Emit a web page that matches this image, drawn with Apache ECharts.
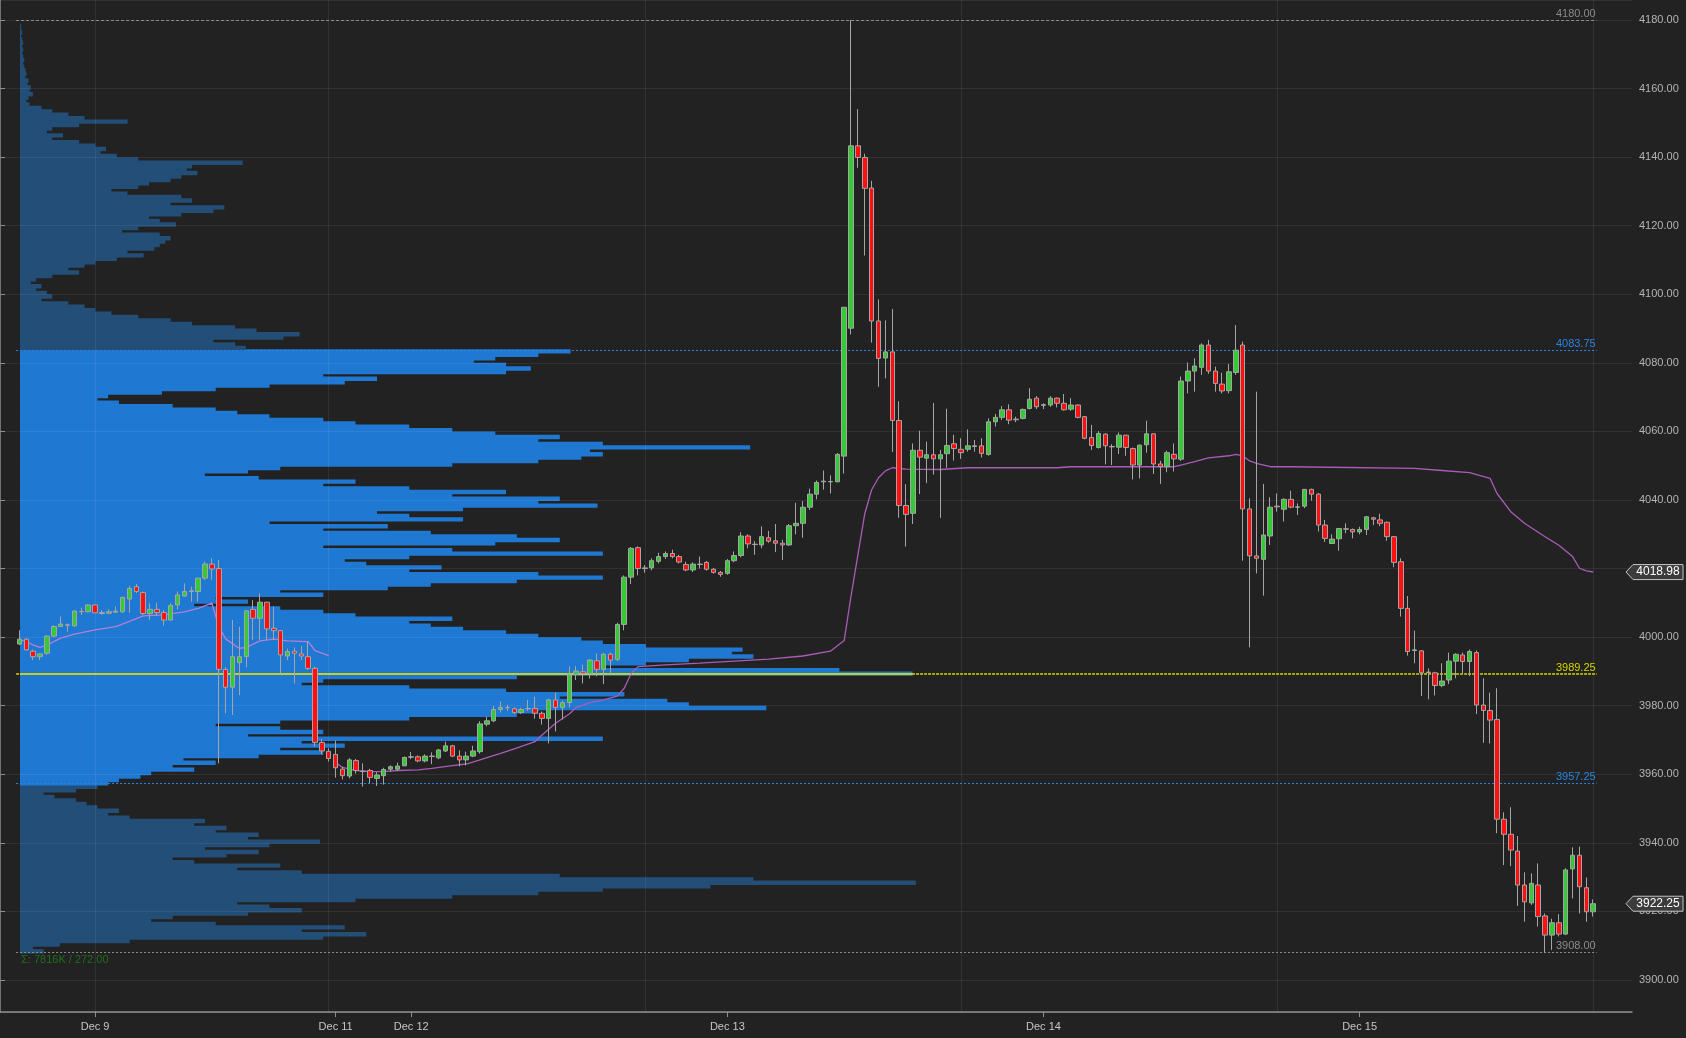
<!DOCTYPE html>
<html><head><meta charset="utf-8">
<script src="https://cdn.jsdelivr.net/npm/echarts/dist/echarts.min.js"></script>
<style>html,body{margin:0;padding:0;background:#222222;}#c{width:1686px;height:1038px;}</style>
</head><body><div id="c"></div><script>
// ---------- data ----------
const tickIndex = [11, 46, 57, 103, 149, 195];
const tickLabels = ['Dec 9', 'Dec 11', 'Dec 12', 'Dec 13', 'Dec 14', 'Dec 15'];
const sessionLineIndex = [11, 45, 91, 137, 183, 229];
const sessionStarts = [[2022,11,8],[2022,11,11],[2022,11,12],[2022,11,13],[2022,11,14]];
const levels = [4180.00, 4083.75, 3989.25, 3957.25, 3908.00];
const VAH = 4083.75, VAL = 3957.25, POC = 3989.25;
const lastPrice = 3922.25, vwapLast = 4018.98;
const profileText = 'Σ: 7816K / 272.00';
const profileBase = 3908;
const profileVol = [
22,12,37,102,282,322,262,302,182,122,
142,212,262,232,202,312,402,482,542,642,
833,682,502,262,202,242,162,142,192,222,
172,232,279,212,222,182,192,162,172,102,
82,92,72,62,52,32,22,52,72,82,
92,112,122,162,142,182,152,222,282,242,
302,262,542,212,282,242,182,242,362,462,
482,694,622,602,502,562,452,362,262,282,
462,830,762,542,582,622,682,662,672,582,
542,522,482,452,412,382,362,402,312,282,
242,162,212,182,282,242,342,382,462,542,
482,362,392,322,302,362,542,402,282,442,
502,462,382,282,342,232,412,362,332,412,
537,482,502,402,452,362,282,312,222,172,
212,242,402,482,522,542,530,679,542,482,
502,442,402,362,312,282,232,202,182,142,
92,72,82,132,182,232,302,332,282,452,
475,452,422,442,482,512,210,200,180,245,
260,220,200,160,140,110,85,70,60,45,
20,30,25,15,20,10,15,30,55,45,
60,70,90,115,100,125,130,135,140,130,
95,110,145,130,120,150,180,190,140,160,
150,100,85,110,120,140,150,165,155,160,
207,110,90,75,80,70,55,30,40,25,
30,55,100,60,45,30,20,9,6,8,
12,9,10,7,8,5,6,5,4,3,
4,3,2,3,2,3,2,1,2,1,
1,0];
// [open, close, low, high]
const ohlc = [
[3998.0,3999.4,3997.7,4002.0],[3999.4,3996.3,3996.1,3999.7],[3995.9,3994.3,3993.3,3996.4],[3994.3,3995.1,3993.3,3995.3],
[3995.3,4000.3,3994.8,4000.6],[4000.3,4003.1,4000.0,4003.5],[4003.1,4003.8,4003.0,4006.0],[4003.5,4003.6,4001.6,4004.0],
[4003.3,4007.6,4003.0,4007.9],[4007.4,4007.5,4006.5,4008.6],[4007.4,4009.4,4007.2,4009.6],[4009.4,4007.1,4007.0,4009.6],
[4007.2,4006.9,4006.5,4007.9],[4007.0,4007.4,4006.7,4008.1],[4007.3,4007.6,4007.0,4008.9],[4007.4,4011.6,4007.0,4011.8],
[4011.1,4014.2,4007.1,4015.0],[4014.7,4013.3,4012.8,4015.5],[4013.0,4006.9,4006.5,4013.3],[4006.9,4008.1,4005.0,4009.9],
[4008.1,4007.2,4006.2,4010.0],[4007.2,4005.0,4003.4,4007.9],[4005.0,4009.2,4004.8,4009.9],[4009.4,4012.3,4008.1,4013.3],
[4012.0,4013.3,4011.8,4015.7],[4013.3,4013.5,4010.3,4014.7],[4013.3,4017.2,4010.3,4017.4],[4017.2,4021.3,4016.7,4022.0],
[4021.3,4019.9,4016.7,4023.0],[4020.0,3990.6,3963.2,4022.5],[3990.6,3985.4,3977.8,3991.2],[3985.4,3994.3,3977.3,4005.0],
[3992.6,3994.3,3983.1,4003.0],[3994.3,4007.7,3991.2,4007.9],[4008.1,4005.5,3999.2,4010.8],[4005.5,4010.2,3999.2,4012.8],
[4010.2,4002.4,3999.2,4010.3],[4002.6,4001.9,3999.2,4008.9],[4001.9,3994.8,3989.4,4002.1],[3994.5,3995.8,3993.3,3996.7],
[3995.9,3995.3,3986.5,3997.0],[3995.1,3994.5,3993.3,3997.4],[3994.3,3990.9,3990.4,3998.8],[3990.9,3969.3,3968.1,3991.4],
[3969.3,3966.8,3965.8,3970.3],[3966.7,3964.6,3963.7,3967.6],
[3965.8,3961.9,3959.0,3969.8],[3961.5,3959.6,3958.5,3962.2],[3959.5,3964.2,3958.8,3964.7],[3964.0,3961.1,3960.2,3964.5],
[3960.9,3960.8,3956.4,3963.2],[3961.1,3959.1,3957.4,3961.6],[3958.8,3959.8,3956.6,3960.6],[3959.6,3961.4,3957.0,3961.9],
[3961.5,3962.2,3960.8,3962.6],[3961.5,3962.4,3961.0,3963.4],[3962.5,3964.9,3962.3,3965.2],[3965.0,3965.1,3964.4,3966.5],
[3965.1,3963.9,3963.5,3965.5],[3963.9,3965.3,3963.5,3965.8],[3965.3,3965.2,3963.0,3966.4],[3964.8,3967.1,3964.4,3967.4],
[3966.8,3968.3,3966.5,3969.5],[3968.3,3965.3,3965.0,3968.6],[3965.3,3964.2,3962.3,3967.0],[3964.2,3965.3,3962.6,3966.6],
[3965.3,3966.8,3965.0,3968.3],[3966.6,3974.7,3966.0,3975.5],[3974.6,3975.6,3974.0,3976.8],[3975.6,3978.9,3975.2,3979.9],
[3978.9,3979.5,3978.0,3981.2],[3979.5,3979.4,3978.5,3980.3],[3979.1,3978.0,3977.6,3979.5],[3978.0,3978.9,3977.6,3979.4],
[3979.1,3979.2,3978.5,3981.7],[3979.2,3977.8,3976.2,3982.6],[3977.8,3976.3,3974.5,3978.3],[3976.3,3981.7,3969.0,3982.0],
[3981.7,3979.5,3972.5,3983.8],[3979.5,3980.9,3976.0,3981.5],[3980.9,3989.0,3979.5,3991.5],[3989.2,3990.1,3987.5,3991.6],
[3989.9,3989.4,3986.5,3992.0],[3989.4,3993.3,3987.9,3993.6],[3993.1,3990.6,3988.6,3995.2],[3990.6,3995.0,3986.3,3995.4],
[3995.0,3993.3,3989.3,3995.5],[3993.5,4003.7,3993.0,4004.2],[4003.7,4017.5,4002.0,4018.0],[4017.5,4025.9,4015.5,4026.3],
[4026.1,4020.0,4018.0,4026.5],[4020.0,4020.2,4018.8,4021.0],
[4020.2,4022.3,4019.5,4023.0],[4022.1,4023.5,4021.5,4024.6],[4023.5,4024.4,4022.8,4025.0],[4024.4,4023.5,4023.0,4025.5],
[4023.5,4021.9,4021.5,4024.0],[4021.2,4019.6,4019.2,4022.0],[4019.6,4021.3,4019.0,4021.8],[4021.2,4021.3,4020.0,4023.5],
[4021.8,4019.8,4019.4,4022.2],[4019.8,4018.9,4018.5,4020.2],[4018.9,4018.3,4017.6,4019.3],[4018.6,4022.3,4018.2,4022.8],
[4022.3,4023.8,4021.8,4025.0],[4023.8,4029.5,4023.3,4030.6],[4029.5,4027.2,4025.9,4030.0],[4027.0,4027.1,4024.0,4028.0],
[4026.9,4029.3,4025.9,4032.3],[4029.0,4028.0,4027.5,4031.0],[4028.1,4027.4,4024.8,4033.0],[4027.4,4026.9,4022.5,4028.4],
[4026.9,4032.5,4026.6,4033.0],[4032.5,4033.2,4030.0,4039.2],[4033.2,4037.9,4029.0,4039.7],[4037.9,4041.7,4037.1,4043.3],
[4041.7,4045.1,4040.2,4045.7],[4045.3,4045.5,4043.0,4048.6],[4045.3,4045.4,4041.9,4047.2],[4045.3,4053.3,4045.3,4053.7],
[4052.8,4096.2,4047.7,4096.2],[4090.1,4143.3,4088.3,4180.0],[4143.3,4139.9,4136.9,4154.0],[4139.9,4130.9,4111.3,4141.0],
[4131.0,4092.2,4085.9,4133.1],[4092.2,4081.3,4073.0,4098.5],[4081.4,4083.2,4075.5,4092.4],[4083.2,4063.2,4054.0,4095.7],
[4063.2,4038.4,4034.8,4068.8],[4038.4,4035.8,4026.4,4044.6],[4036.1,4054.5,4033.0,4056.5],[4054.5,4052.5,4041.7,4060.2],
[4052.2,4053.2,4044.9,4057.0],[4053.2,4052.0,4047.4,4068.3],[4052.0,4053.2,4034.8,4054.6],[4053.5,4055.9,4049.4,4066.6],
[4056.4,4055.0,4051.5,4059.0],[4054.8,4053.8,4052.0,4058.0],
[4054.8,4055.8,4054.1,4060.6],[4055.6,4055.8,4054.1,4057.5],[4055.8,4053.6,4052.4,4058.0],[4053.3,4062.8,4052.9,4063.8],
[4062.8,4064.1,4061.4,4065.1],[4064.1,4066.3,4063.3,4067.4],[4066.3,4063.3,4062.1,4067.9],[4063.6,4063.4,4062.7,4064.3],
[4063.8,4066.4,4063.5,4066.7],[4066.7,4069.4,4066.4,4072.6],[4069.7,4067.2,4066.5,4070.3],[4067.6,4067.8,4066.5,4068.2],
[4067.7,4069.7,4067.2,4070.3],[4069.7,4068.2,4067.0,4069.9],[4068.2,4066.3,4066.1,4070.9],[4066.5,4067.7,4066.0,4069.7],
[4067.7,4064.1,4063.8,4067.9],[4064.3,4058.0,4057.7,4064.5],[4058.2,4055.9,4054.6,4061.9],[4055.3,4059.4,4055.0,4060.1],
[4059.2,4055.8,4050.4,4059.5],[4055.6,4055.5,4050.2,4056.3],[4055.4,4058.9,4053.4,4059.7],[4058.9,4055.3,4052.9,4059.0],
[4055.0,4050.2,4046.0,4055.3],[4050.2,4056.0,4046.3,4056.2],[4056.1,4059.3,4053.8,4063.1],[4059.3,4050.5,4047.6,4059.4],
[4050.5,4049.7,4044.7,4051.4],[4049.7,4053.8,4048.1,4054.4],[4053.3,4052.0,4048.3,4056.5],[4051.9,4074.7,4051.4,4076.0],
[4074.7,4077.6,4071.1,4080.1],[4077.6,4079.1,4071.6,4081.3],[4078.7,4085.2,4076.5,4085.7],[4085.2,4077.6,4076.8,4086.7],
[4077.6,4074.0,4071.6,4078.9],[4073.8,4071.8,4071.1,4077.1],[4071.9,4077.4,4071.1,4079.7],[4077.2,4083.7,4076.5,4091.0],
[4085.2,4037.4,4022.3,4086.2],[4037.4,4023.7,3997.0,4040.5],[4023.7,4023.0,4018.6,4071.6],[4022.7,4029.8,4012.1,4044.7],
[4029.5,4037.9,4026.9,4040.8],[4038.2,4038.0,4036.6,4041.9],
[4037.3,4040.2,4033.7,4040.5],[4040.2,4037.9,4037.6,4042.7],[4037.9,4038.0,4035.6,4039.0],[4038.2,4043.1,4037.6,4043.2],
[4043.1,4041.7,4039.8,4043.3],[4041.7,4032.7,4030.8,4042.1],[4032.7,4028.8,4027.8,4034.2],[4027.3,4028.6,4027.2,4030.0],
[4028.7,4031.7,4025.2,4031.8],[4031.5,4031.6,4030.3,4033.2],[4031.4,4030.7,4028.8,4031.7],[4030.7,4031.4,4030.0,4032.2],
[4031.4,4035.1,4029.8,4035.3],[4034.8,4034.4,4032.7,4035.1],[4034.2,4033.2,4032.4,4036.0],[4033.5,4029.3,4028.1,4033.7],
[4029.3,4021.8,4020.4,4029.5],[4022.0,4008.4,4006.0,4023.0],[4008.4,3995.8,3994.6,4012.0],[3996.1,3996.3,3992.4,4001.9],
[3996.0,3989.6,3982.8,3996.2],[3989.7,3989.8,3981.9,3990.9],[3989.6,3985.9,3983.0,3989.9],[3985.9,3987.2,3985.4,3992.4],
[3987.5,3993.0,3986.3,3995.5],[3993.0,3995.0,3988.0,3995.3],[3994.8,3992.9,3989.4,3995.5],[3992.9,3995.8,3988.7,3996.4],
[3995.5,3980.2,3977.6,3996.1],[3980.2,3978.6,3969.2,3988.0],[3978.6,3975.8,3969.0,3983.8],[3976.0,3946.9,3942.8,3985.1],
[3946.9,3942.5,3933.5,3948.9],[3942.5,3937.9,3933.2,3950.4],[3937.6,3927.7,3921.6,3942.0],[3927.7,3922.8,3917.0,3931.4],
[3922.5,3928.2,3921.9,3931.1],[3927.7,3918.5,3915.6,3934.0],[3918.7,3913.1,3908.0,3919.4],[3913.1,3916.7,3908.8,3917.9],
[3916.7,3913.4,3912.7,3919.2],[3913.4,3932.1,3913.1,3932.6],[3932.4,3936.4,3923.8,3938.7],[3936.4,3927.2,3919.4,3938.9],
[3926.9,3919.9,3917.0,3929.9],[3919.9,3922.25,3918.5,3923.5]
];
// VWAP readings: [candle index, value]
const vwapDec9 = [[0,3999.3],[1,3998.7],[2,3997.7],[3,3997.0],[4,3997.7],[6,3999.7],[8,4000.9],[11,4002.1],[14,4003.1],[16,4004.6],[18,4006.2],[21,4006.5],[24,4007.4],[26,4008.4],[28,4009.9],[29,4003.1],[30,3999.5],[32,3996.7],[33,3997.0],[35,3998.9],[37,3999.4],[39,3998.9],[42,3998.7],[43,3996.1],[45,3994.6]];
const vwapAnchored = [[46,3963.4],[47,3962.0],[49,3961.1],[51,3960.8],[53,3960.8],[55,3961.1],[58,3961.3],[60,3961.7],[63,3962.5],[65,3963.0],[67,3964.2],[70,3966.1],[72,3967.4],[75,3969.5],[76,3971.4],[78,3974.9],[80,3977.6],[81,3979.5],[83,3980.9],[85,3981.7],[87,3982.8],[88,3985.1],[89,3989.4],[90,3991.4],[94,3991.9],[99,3992.4],[104,3993.0],[109,3993.6],[114,3994.5],[118,3995.9],[120,3999.0],[121,4012.0],[122,4024.0],[123,4036.0],[124,4043.0],[125,4046.5],[126,4048.5],[127,4049.4],[129,4049.0],[134,4048.9],[138,4049.4],[151,4049.4],[153,4049.7],[168,4049.7],[169,4050.2],[171,4051.2],[173,4052.3],[176,4052.9],[177,4053.3],[178,4052.9],[179,4051.4],[180,4050.7],[182,4049.7],[185,4049.7],[203,4049.2],[207,4048.6],[211,4048.0],[214,4046.3],[215,4041.9],[217,4036.6],[219,4033.2],[222,4029.3],[224,4026.8],[226,4023.5],[227,4020.1],[228,4019.3],[229,4019.0]];

// ---------- categories (30-minute bars) ----------
const categories = [];
sessionStarts.forEach(function (d) {
  for (let k = 0; k < 46; k++) {
    const t = new Date(d[0], d[1], d[2], 18, 0 + 30 * k);
    const p = n => (n < 10 ? '0' : '') + n;
    categories.push(p(t.getMonth() + 1) + '-' + p(t.getDate()) + ' ' + p(t.getHours()) + ':' + p(t.getMinutes()));
  }
});

// ---------- chart ----------
const yMin = 3890.67, yMax = 4185.83;
const levelColors = ['#8a8a8a', '#2a84de', '#d4d400', '#2a84de', '#8a8a8a'];
const levelTypes = [[3, 2], [2, 2], [3, 1], [2, 2], [2, 2]];
const chart = echarts.init(document.getElementById('c'), null, {renderer: 'canvas'});
const axisCol = '#8e8e8e';
const option = {
  backgroundColor: '#222222',
  animation: false,
  textStyle: {fontFamily: 'Liberation Sans, Arial, sans-serif'},
  title: {text: profileText, left: 21, top: 954, padding: 0, textStyle: {color: '#1d6e1d', fontSize: 11, fontWeight: 'normal'}},
  grid: [
    {left: 0, right: 54, top: 0, bottom: 26},
    {left: 16.06, width: 1580.6, top: 0, bottom: 26},
    {left: 20, right: 54, top: 0, bottom: 26}
  ],
  xAxis: [
    {gridIndex: 0, type: 'value', min: 0, max: 1, axisLine: {show: true, onZero: false, lineStyle: {color: axisCol, width: 1.5}}, axisTick: {show: false}, axisLabel: {show: false}, splitLine: {show: false}},
    {gridIndex: 1, type: 'category', data: categories, boundaryGap: true,
      axisLine: {show: false, onZero: false},
      axisTick: {show: true, alignWithLabel: true, length: 5, interval: i => tickIndex.indexOf(i) >= 0, lineStyle: {color: axisCol}},
      axisLabel: {show: true, interval: i => tickIndex.indexOf(i) >= 0, formatter: (v, i) => tickLabels[tickIndex.indexOf(i)], color: '#c6c6c6', fontSize: 11, margin: 9},
      splitLine: {show: false}},
    {gridIndex: 2, type: 'value', min: 0, max: 1499, show: false}
  ],
  yAxis: [
    {gridIndex: 0, type: 'value', position: 'right', min: yMin, max: yMax, splitNumber: 15, z: 3,
      axisLine: {show: true, lineStyle: {color: axisCol, width: 1.5}},
      axisTick: {show: true, length: 5, lineStyle: {color: axisCol}},
      axisLabel: {color: '#b4b4b4', fontSize: 11, margin: 7, showMinLabel: false, showMaxLabel: false, formatter: v => v.toFixed(2)},
      splitLine: {show: true, lineStyle: {color: 'rgba(255,255,255,0.07)', width: 1}}},
    {gridIndex: 1, type: 'value', min: yMin, max: yMax, show: false},
    {gridIndex: 2, type: 'value', min: yMin, max: yMax, show: false}
  ],
  series: [
    {
      type: 'custom', name: 'profile', xAxisIndex: 2, yAxisIndex: 2, z: 1, silent: true,
      data: profileVol.map((v, k) => [v, profileBase + k]),
      encode: {x: 0, y: 1},
      renderItem: function (params, api) {
        const v = api.value(0), p = api.value(1);
        const a = api.coord([0, p + 1]);
        const b = api.coord([v, p]);
        const inVA = (p + 1 > VAL) && (p <= VAH);
        const children = [{type: 'rect', shape: {x: a[0], y: a[1], width: Math.max(0, b[0] - a[0]), height: b[1] - a[1] + 1},
          style: {fill: inVA ? '#1f78d2' : '#234e77'}}];
        if (p === Math.floor(POC)) {
          const c = api.coord([v, POC]);
          children.push({type: 'rect', shape: {x: a[0], y: c[1] - 1, width: c[0] - a[0], height: 2}, style: {fill: '#b4c84e'}});
        }
        return {type: 'group', children: children};
      }
    },
    {
      type: 'candlestick', name: 'ES', xAxisIndex: 1, yAxisIndex: 1, z: 5, data: ohlc, barWidth: 5,
      itemStyle: {color: '#36c936', color0: '#ff1010', borderColor: '#a5a5a5', borderColor0: '#a5a5a5', borderColorDoji: '#a5a5a5', borderWidth: 1},
      markLine: {silent: true, symbol: ['none', 'none'], z: 2, label: {show: false},
        lineStyle: {color: 'rgba(255,255,255,0.07)', type: 'solid', width: 1},
        data: sessionLineIndex.map(i => ({xAxis: categories[i]}))}
    },
    {
      type: 'line', name: 'VWAP Dec 9', xAxisIndex: 1, yAxisIndex: 1, z: 4, data: vwapDec9, showSymbol: false, symbol: 'none',
      lineStyle: {color: '#b37fd6', width: 1.3}
    },
    {
      type: 'line', name: 'VWAP', xAxisIndex: 1, yAxisIndex: 1, z: 4, data: vwapAnchored, showSymbol: false, symbol: 'none',
      lineStyle: {color: '#a95cb8', width: 1.3},
      markLine: {silent: true, symbol: ['none', 'none'],
        data: levels.map((v, k) => ({yAxis: v,
          lineStyle: {color: levelColors[k], type: levelTypes[k], width: k === 2 ? 1.5 : 1},
          label: {show: true, position: 'insideEndTop', distance: 1, formatter: v.toFixed(2), color: levelColors[k], fontSize: 11}}))}
    }
  ]
};
chart.setOption(option);

function priceTag(value) {
  const y = chart.convertToPixel({yAxisIndex: 0}, value);
  return [
    {type: 'polygon', z: 100, shape: {points: [[1626, y], [1633, y - 7.5], [1683, y - 7.5], [1683, y + 7.5], [1633, y + 7.5]]},
      style: {fill: '#3c3c3c', stroke: '#c4c4c4', lineWidth: 1}},
    {type: 'text', z: 101, x: 1658, y: y, style: {text: value.toFixed(2), fill: '#ffffff', font: '12px Liberation Sans, Arial, sans-serif', align: 'center', verticalAlign: 'middle'}}
  ];
}
chart.setOption({graphic: priceTag(lastPrice).concat(priceTag(vwapLast))});
</script></body></html>
